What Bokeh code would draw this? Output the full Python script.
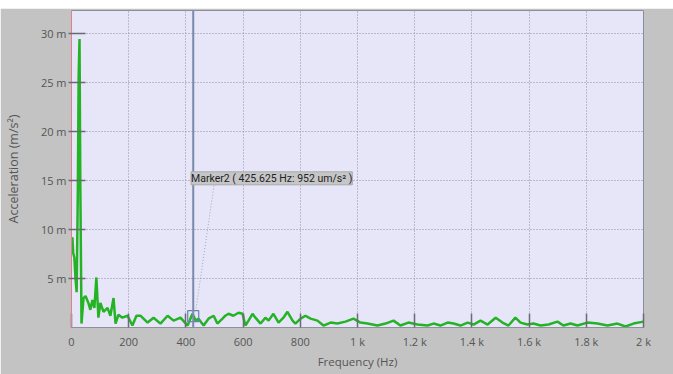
from bokeh.plotting import figure
from bokeh.models import (Range1d, FixedTicker, CustomJSTickFormatter, Span, Label,
                          ColumnDataSource)
from bokeh.embed import file_html
from bokeh.resources import INLINE

# Frequency (Hz) and acceleration (m/s^2)
freq = [0, 3, 6, 10, 14, 18, 22, 25, 28, 31, 35, 42, 49, 59, 66, 73, 80, 87, 94, 101,
        112, 126, 136, 147, 154, 164, 178, 196, 213, 227, 241, 266, 287, 311, 336, 357,
        381, 406, 423, 434, 444, 462, 479, 497, 510, 528, 538, 549, 566, 584, 598, 608,
        619, 633, 643, 661, 678, 689, 706, 724, 741, 755, 773, 783, 801, 818, 836, 860,
        881, 906, 930, 958, 986, 1010, 1035, 1070, 1098, 1126, 1150, 1178, 1210, 1245,
        1266, 1290, 1315, 1336, 1360, 1385, 1406, 1430, 1455, 1483, 1507, 1528, 1552,
        1570, 1594, 1615, 1640, 1668, 1699, 1720, 1745, 1769, 1804, 1839, 1874, 1909,
        1937, 1965, 2000]
accel_milli = [8.0, 9.2, 7.6, 7.1, 5.0, 3.6, 13.5, 25.6, 29.4, 14.0, 0.4, 3.0, 3.2, 2.5,
               1.8, 2.8, 2.0, 5.1, 1.0, 2.5, 1.6, 2.0, 1.2, 3.0, 0.4, 1.3, 1.0, 1.2, 0.2,
               1.2, 1.2, 0.5, 1.0, 0.4, 1.2, 0.7, 1.0, 0.2, 1.4, 0.7, 0.9, 0.2, 0.9, 1.2,
               0.4, 0.9, 1.2, 1.4, 1.2, 1.5, 1.4, 0.2, 0.7, 1.4, 1.0, 0.4, 1.0, 0.7, 1.4,
               0.5, 1.0, 1.6, 0.7, 0.4, 0.9, 1.2, 0.9, 0.7, 0.2, 0.5, 0.4, 0.6, 0.9, 0.5,
               0.4, 0.2, 0.4, 0.7, 0.2, 0.5, 0.3, 0.2, 0.4, 0.2, 0.5, 0.4, 0.2, 0.5, 0.3,
               0.7, 0.3, 1.0, 0.5, 0.2, 1.0, 0.5, 0.3, 0.4, 0.2, 0.3, 0.6, 0.2, 0.4, 0.2,
               0.5, 0.4, 0.2, 0.4, 0.1, 0.4, 0.6]
accel = [v / 1000.0 for v in accel_milli]

x_ticks = [0, 200, 400, 600, 800, 1000, 1200, 1400, 1600, 1800, 2000]
y_ticks = [0.005, 0.010, 0.015, 0.020, 0.025, 0.030]

marker_freq = 425.625
marker_val = 0.00115
marker_text = "Marker2 ( 425.625 Hz: 952 um/s\u00b2 )"

FONT = "Open Sans"
LABEL_FONT = "Roboto"
GRAY_BG = "#c3c3c3"

p = figure(width=673, height=366, output_backend="svg", toolbar_location=None,
           x_range=Range1d(0, 2000), y_range=Range1d(0, 0.0323),
           min_border_left=71, min_border_right=30, min_border_top=2,
           min_border_bottom=47)
p.margin = (8, 0, 0, 0)
p.border_fill_color = GRAY_BG
p.background_fill_color = "#e6e6f8"
p.outline_line_color = "#8a8e9c"
p.outline_line_width = 1

# Grid
for g in (p.xgrid, p.ygrid):
    g.grid_line_color = "#8a90a8"
    g.grid_line_dash = "1 2"
    g.grid_line_width = 1
p.xgrid.ticker = FixedTicker(ticks=x_ticks)
p.ygrid.ticker = FixedTicker(ticks=y_ticks)

# Axes
p.xaxis.ticker = FixedTicker(ticks=x_ticks)
p.yaxis.ticker = FixedTicker(ticks=y_ticks)
p.xaxis.formatter = CustomJSTickFormatter(
    code="return tick >= 1000 ? (tick/1000) + ' k' : '' + tick;")
p.yaxis.formatter = CustomJSTickFormatter(
    code="return Math.round(tick*1000) + ' m';")
for ax in (p.xaxis, p.yaxis):
    ax.major_label_text_font = FONT
    ax.major_label_text_font_size = "11px"
    ax.major_label_text_color = "#555555"
    ax.axis_label_text_font = FONT
    ax.axis_label_text_font_style = "normal"
    ax.axis_label_text_color = "#555555"
    ax.minor_tick_line_color = None
    ax.major_tick_line_color = "#6a6a70"
    ax.major_tick_line_width = 1.5
p.xaxis.axis_label_text_font_size = "11.5px"
p.yaxis.axis_label_text_font_size = "12.5px"
p.xaxis.axis_label = "Frequency (Hz)"
p.yaxis.axis_label = "Acceleration (m/s\u00b2)"
p.xaxis.major_tick_in = 14
p.xaxis.major_tick_out = 0
p.yaxis.major_tick_in = 14
p.yaxis.major_tick_out = 3
p.xaxis.axis_line_color = "#909098"
p.yaxis.axis_line_color = "#e08090"
p.xaxis.major_label_standoff = 6
p.yaxis.major_label_standoff = 2
p.xaxis.axis_label_standoff = 2
p.yaxis.axis_label_standoff = 16

# Marker line
p.add_layout(Span(location=marker_freq, dimension="height",
                  line_color="#7a8aab", line_width=2))

# Spectrum
src = ColumnDataSource(dict(f=freq, a=accel))
p.line("f", "a", source=src, line_color="#24b324", line_width=2.5)

# Marker box and leader
p.scatter([marker_freq], [marker_val], marker="square", size=11,
          fill_color=None, line_color="#6a80b0", line_width=1.2)
p.line([marker_freq + 10, 500], [marker_val + 0.0008, 0.0148],
       line_color="#a0a4b8", line_dash="1 2", line_width=1)

p.add_layout(Label(x=418, y=0.0152, text=marker_text, text_font=LABEL_FONT,
                   text_font_size="10.5px", text_color="#222222",
                   text_baseline="middle",
                   background_fill_color="#c6c6c8", background_fill_alpha=1.0,
                   border_line_color="#a8a8ac"))

open("out.html", "w").write(file_html(p, INLINE))
